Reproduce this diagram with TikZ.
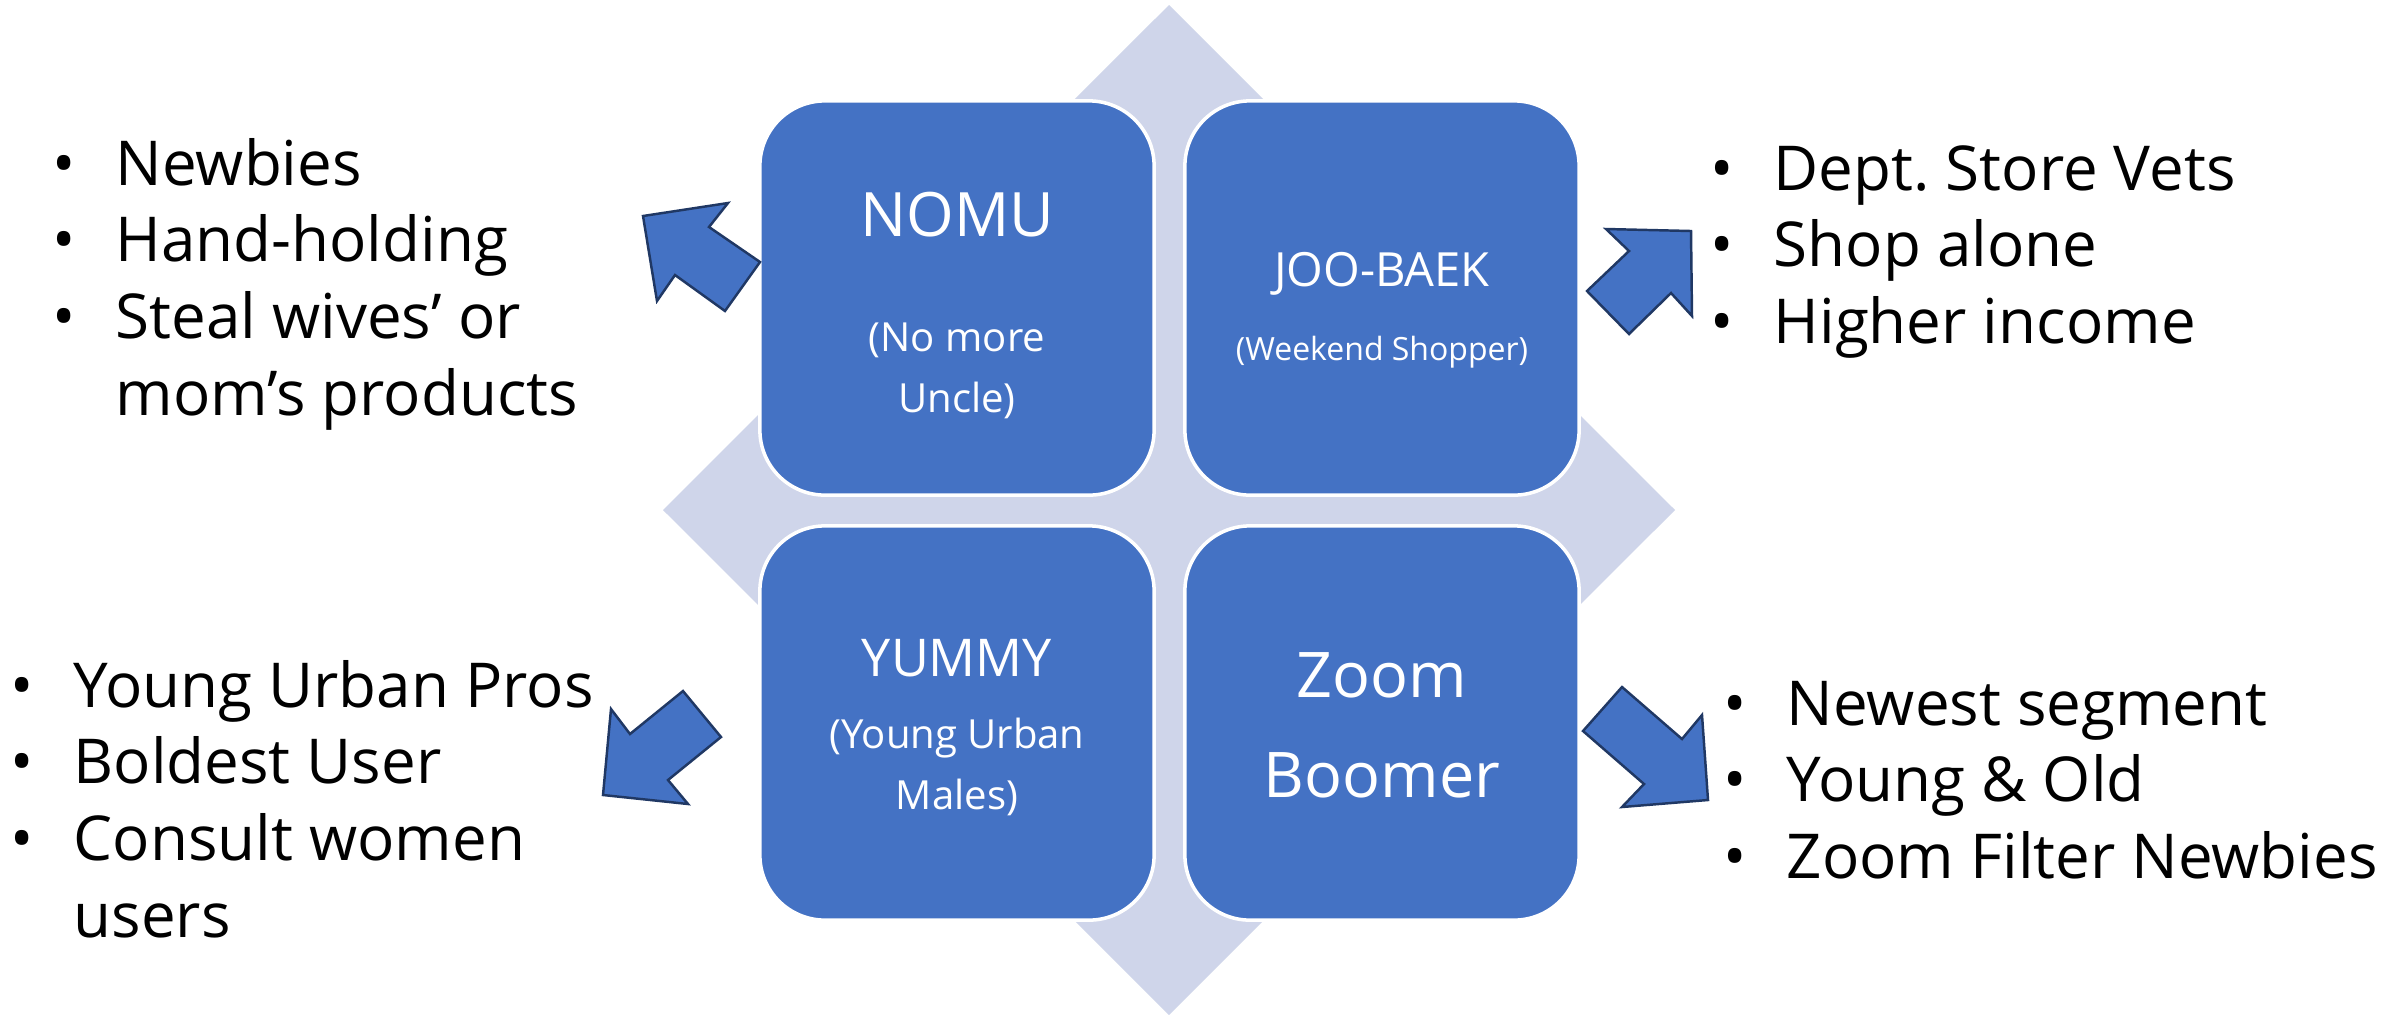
\documentclass[tikz,border=0pt]{standalone}
\usepackage{fontspec}
\setmainfont{Open Sans}
\usetikzlibrary{positioning}
\frenchspacing

\definecolor{segblue}{HTML}{4472C4}
\definecolor{backlav}{HTML}{CFD5EA}
\definecolor{navy}{HTML}{203864}

% bullet hung in the left margin of a list line
\newcommand{\bul}{\llap{\makebox[0pt][c]{\textbullet}\hspace{14.8pt}}}
% lines stacked with the baseline on the first one
\newcommand{\stack}[2][c]{\begin{tabular}[t]{@{}#1@{}}#2\end{tabular}}

\tikzset{
  seg/.style={draw=white, line width=1pt, fill=segblue, rounded corners=18.5pt,
    minimum width=3.94cm, minimum height=3.94cm},
  segname/.style={text=white, anchor=base, inner sep=0pt},
  note/.style={anchor=base west, inner sep=0pt, font=\fontsize{17.6}{21.8}\selectfont},
  blockarrow/.style={fill=segblue, draw=navy, line width=0.7pt, line join=miter},
}

\begin{document}
\begin{tikzpicture}[x=0.01cm, y=-0.01cm]
  \useasboundingbox[fill=white] (0,0) rectangle (2397,1014);

  % diamond behind the grid
  \fill[backlav] (1169,5) -- (1675,510) -- (1169,1015) -- (663,510) -- cycle;

  % the four segments
  \node[seg] (nomu) at (957,298) {};
  \node[seg] (joobaek) at (1382,298) {};
  \node[seg] (yummy) at (957,723) {};
  \node[seg] (zoom) at (1382,723) {};

  \node[segname, font=\fontsize{17.4}{20}\selectfont] (nomu-t) at (957,236) {NOMU};
  \node[segname, font=\fontsize{11.4}{17.6}\selectfont] (nomu-s) at (957,351)
    {\stack{(No more\\Uncle)}};
  \node[segname, font=\fontsize{13.4}{16}\selectfont] (joobaek-t) at (1382,286) {JOO-BAEK};
  \node[segname, font=\fontsize{9.1}{11}\selectfont] (joobaek-s) at (1382,360) {(Weekend Shopper)};
  \node[segname, font=\fontsize{14.8}{18}\selectfont] (yummy-t) at (957,676) {YUMMY};
  \node[segname, font=\fontsize{11.4}{17.6}\selectfont] (yummy-s) at (957,748)
    {\stack{(Young Urban\\Males)}};
  \node[segname, font=\fontsize{17.9}{28.5}\selectfont] (zoom-t) at (1382,697)
    {\stack{Zoom\\Boomer}};

  % block arrows pointing out to the notes
  \draw[blockarrow] (643,216) -- (728,203) -- (709,227) -- (760,262) -- (725,311)
    -- (675,275) -- (657,301) -- cycle;
  \draw[blockarrow] (1691,231) -- (1692,316) -- (1671,293) -- (1629,334) -- (1587,291)
    -- (1629,251) -- (1606,229) -- cycle;
  \draw[blockarrow] (603,795) -- (611,709) -- (630,734) -- (683,691) -- (721,737)
    -- (668,780) -- (688,804) -- cycle;
  \draw[blockarrow] (1708,800) -- (1622,807) -- (1644,784) -- (1583,731) -- (1622,687)
    -- (1682,739) -- (1702,715) -- cycle;

  % notes
  \node[note] (nomu-notes) at (115,185)
    {\stack[l]{\bul Newbies\\ \bul Hand-holding\\ \bul Steal wives’ or\\ mom’s products}};
  \node[note] (joobaek-notes) at (1773,190)
    {\stack[l]{\bul Dept. Store Vets\\ \bul Shop alone\\ \bul Higher income}};
  \node[note] (yummy-notes) at (73,707)
    {\stack[l]{\bul Young Urban Pros\\ \bul Boldest User\\ \bul Consult women\\ users}};
  \node[note] (zoom-notes) at (1786,725)
    {\stack[l]{\bul Newest segment\\ \bul Young \& Old\\ \bul Zoom Filter Newbies}};
\end{tikzpicture}
\end{document}
